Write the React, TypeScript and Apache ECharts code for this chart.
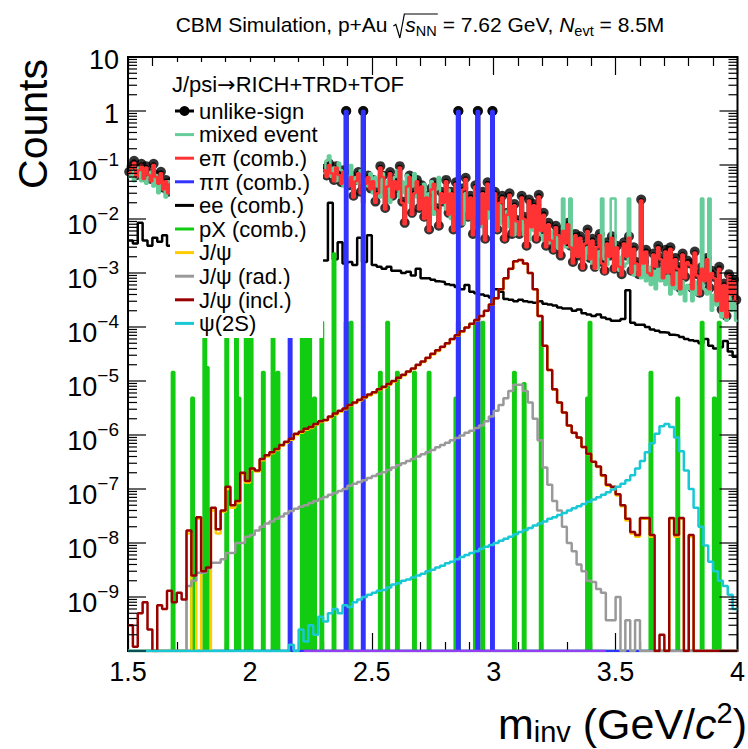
import React, { useEffect, useRef } from "react";
import * as echarts from "echarts";

const FONT = "'Liberation Sans', Arial, Helvetica, sans-serif";
const ARROW_FONT = "'DejaVu Sans', 'Liberation Sans', sans-serif";

// ---- axis ranges ----
const X_MIN = 1.5;
const X_MAX = 4.0;
const Y_MIN = 1e-10;
const Y_MAX = 10;
const X_INTERVAL = 0.5;
const yLabelExponents = [1, 0, -1, -2, -3, -4, -5, -6, -7, -8, -9];

// ---- binning ----
const FINE_BIN = 0.01; // unlike-sign, mixed event, e pi, pi pi, pX
const BIN = 0.02; // ee and the signal histograms
const LEFT_START = 1.5; // first bin of the left part of the combinatorial histograms
const RIGHT_START = 2.3; // first bin of the right part (the legend hides 1.68-2.30)
const FULL_START = 1.5; // first bin of the signal histograms

// ---- unlike-sign (data), 0.01 bins ----
const unlikeLeft = [
  0.075, 0.095, 0.12, 0.065, 0.085, 0.105, 0.06, 0.095, 0.07,
  0.055, 0.105, 0.065, 0.048, 0.075, 0.038, 0.053, 0.032, 0.048,
];
const unlikeRight = [
  0.085, 0.064, 0.106, 0.074, 0.053, 0.095, 0.069, 0.048, 0.08, 1,
  0.042, 0.064, 0.027, 0.053, 0.074, 0.032, 1, 0.048, 0.064, 0.037,
  0.053, 0.021, 0.032, 0.095, 0.064, 0.016, 0.042, 0.074, 0.027, 0.053,
  0.037, 0.095, 0.021, 0.0085, 0.042, 0.064, 0.013, 0.032, 0.053, 0.016,
  0.042, 0.011, 0.027, 0.0064, 0.037, 0.048, 0.016, 0.0075, 0.032, 0.021,
  0.053, 0.013, 0.032, 0.0064, 0.048, 1, 0.0085, 0.037, 0.058, 0.011,
  0.027, 0.0053, 0.042, 1, 0.0085, 0.032, 0.0043, 0.048, 0.016, 1,
  0.032, 0.0064, 0.021, 0.027, 0.0043, 0.013, 0.03, 0.0053, 0.019, 0.0096,
  0.0053, 0.027, 0.011, 0.0032, 0.023, 0.0075, 0.019, 0.0043, 0.028, 0.0064,
  0.013, 0.0032, 0.0085, 0.0043, 0.0027, 0.0075, 0.0053, 0.0021, 0.0064, 0.0037,
  0.0085, 0.0032, 0.0016, 0.0053, 0.0021, 0.0048, 0.0013, 0.0037, 0.0064, 0.0019,
  0.0043, 0.0013, 0.0032, 0.0053, 0.0016, 0.0011, 0.0037, 0.0021, 0.0048, 0.0012,
  0.0032, 0.0014, 0.00095, 0.0037, 0.0021, 0.0048, 0.0011, 0.003, 0.0016, 0.00095,
  0.023, 0.0016, 0.0027, 0.0011, 0.00095, 0.0023, 0.0014, 0.0032, 0.0019, 0.00085,
  0.0027, 0.0011, 0.003, 0.00064, 0.0019, 0.0013, 0.00053, 0.0023, 0.00085, 0.0017,
  0.0015, 0.00053, 0.0025, 0.00095, 0.00043, 0.0013, 0.00075, 0.0019, 0.00053, 0.0011,
  0.00085, 0.00032, 0.0013, 0.00021, 0.00064, 0.00016, 0.00095, 0.00043, 0.00075, 0.00032,
];
const HIGH_BIN = 0.5; // unlike-sign bins above this are the pi pi pairs at 1

// ---- mixed event, 0.01 bins ----
const mixedLeft = [
  0.06, 0.08, 0.05, 0.07, 0.09, 0.05, 0.085, 0.045, 0.06,
  0.075, 0.04, 0.065, 0.03, 0.055, 0.035, 0.025, 0.05, 0.03,
];
const mixedRight = [
  0.07, 0.12, 0.15, 0.06, 0.09, 0.05, 0.11, 0.08, 0.04, 0.065,
  0.05, 0.1, 0.035, 0.06, 0.045, 0.08, 0.03, 0.055, 0.04, 0.07,
  0.03, 0.06, 0.04, 0.025, 0.07, 0.035, 0.05, 0.02, 0.045, 0.06,
  0.08, 0.025, 0.05, 0.03, 0.065, 0.02, 0.04, 0.07, 0.025, 0.035,
  0.02, 0.045, 0.015, 0.03, 0.05, 0.012, 0.035, 0.06, 0.02, 0.028,
  0.015, 0.035, 0.01, 0.025, 0.012, 0.04, 0.018, 0.008, 0.03, 0.014,
  0.02, 0.008, 0.025, 0.012, 0.018, 0.007, 0.022, 0.01, 0.015, 0.006,
  0.012, 0.006, 0.018, 0.008, 0.005, 0.014, 0.007, 0.01, 0.005, 0.009,
  0.006, 0.011, 0.005, 0.008, 0.004, 0.009, 0.006, 0.0045, 0.008, 0.005,
  0.004, 0.007, 0.0035, 0.006, 0.003, 0.005, 0.0028, 0.0045, 0.024, 0.003,
  0.003, 0.024, 0.0025, 0.0035, 0.002, 0.004, 0.0025, 0.0018, 0.003, 0.0022,
  0.0015, 0.003, 0.0012, 0.0025, 0.024, 0.0018, 0.0014, 0.0022, 0.024, 0.024,
  0.0016, 0.0011, 0.002, 0.0013, 0.0015, 0.024, 0.0018, 0.0009, 0.0014, 0.0011,
  0.0008, 0.0016, 0.0007, 0.0013, 0.0006, 0.0011, 0.0005, 0.0012, 0.0007, 0.001,
  0.0006, 0.0009, 0.0004, 0.0008, 0.0005, 0.001, 0.0004, 0.0007, 0.0003, 0.0006,
  0.0005, 0.0003, 0.0007, 0.0004, 0.0006, 0.024, 0.0005, 0.0004, 0.024, 0.0002,
  0.0004, 0.00025, 0.0005, 0.00015, 0.0003, 0.00013, 0.0004, 0.0002, 0.0003, 0.00013,
];

// ---- e pi (comb.), 0.01 bins ----
const epiLeft = [
  0.07, 0.09, 0.11, 0.06, 0.08, 0.1, 0.055, 0.09, 0.065,
  0.05, 0.1, 0.06, 0.045, 0.07, 0.035, 0.05, 0.03, 0.045,
];
const epiRight = [
  0.08, 0.06, 0.1, 0.07, 0.05, 0.09, 0.065, 0.045, 0.075, 0.055,
  0.04, 0.06, 0.025, 0.05, 0.07, 0.03, 0.02, 0.045, 0.06, 0.035,
  0.05, 0.02, 0.03, 0.09, 0.06, 0.015, 0.04, 0.07, 0.025, 0.05,
  0.035, 0.09, 0.02, 0.008, 0.04, 0.06, 0.012, 0.03, 0.05, 0.015,
  0.04, 0.01, 0.025, 0.006, 0.035, 0.045, 0.015, 0.007, 0.03, 0.02,
  0.05, 0.012, 0.03, 0.006, 0.045, 0.02, 0.008, 0.035, 0.055, 0.01,
  0.025, 0.005, 0.04, 0.05, 0.008, 0.03, 0.004, 0.045, 0.015, 0.006,
  0.03, 0.006, 0.02, 0.025, 0.004, 0.012, 0.028, 0.005, 0.018, 0.009,
  0.005, 0.025, 0.01, 0.003, 0.022, 0.007, 0.018, 0.004, 0.026, 0.006,
  0.012, 0.003, 0.008, 0.004, 0.0025, 0.007, 0.005, 0.002, 0.006, 0.0035,
  0.008, 0.003, 0.0015, 0.005, 0.002, 0.0045, 0.0012, 0.0035, 0.006, 0.0018,
  0.004, 0.0012, 0.003, 0.005, 0.0015, 0.001, 0.0035, 0.002, 0.0045, 0.0011,
  0.003, 0.0013, 0.0009, 0.0035, 0.002, 0.0045, 0.001, 0.0028, 0.0015, 0.0009,
  0.022, 0.0015, 0.0025, 0.001, 0.0009, 0.0022, 0.0013, 0.003, 0.0018, 0.0008,
  0.0025, 0.001, 0.0028, 0.0006, 0.0018, 0.0012, 0.0005, 0.0022, 0.0008, 0.0016,
  0.0014, 0.0005, 0.0024, 0.0009, 0.0004, 0.0012, 0.0007, 0.0018, 0.0005, 0.001,
  0.0008, 0.0003, 0.0012, 0.0002, 0.0006, 0.00015, 0.0009, 0.0004, 0.0007, 0.0003,
];

// ---- pi pi (comb.) : sparse 0.01 bins (lower edge, value) ----
const pipiSpikes = [[2.16, 1], [2.39, 1], [2.46, 1], [2.85, 1], [2.93, 1], [2.99, 1]];

// ---- ee (comb.), 0.02 bins ----
const eeLeft = [0.004, 0.0035, 0.0085, 0.004, 0.0032, 0.0045, 0.0038, 0.005, 0.0032];
const eeRight = [
  0.0017, 0.02, 0.0018, 0.0037, 0.0015, 0.0016, 0.0014, 0.0045, 0.0016, 0.005,
  0.0014, 0.0013, 0.0012, 0.0013, 0.0011, 0.0011, 0.001, 0.00105, 0.0009, 0.0012,
  0.0008, 0.0008, 0.00075, 0.0007, 0.00068, 0.00062, 0.0006, 0.00055, 0.0005, 0.0006,
  0.00045, 0.00042, 0.0004, 0.00038, 0.00035, 0.0005, 0.00045, 0.00033, 0.00032, 0.0003,
  0.00032, 0.0003, 0.00029, 0.00028, 0.0003, 0.00027, 0.00026, 0.00025, 0.00023, 0.00022,
  0.00022, 0.0002, 0.00021, 0.00018, 0.00017, 0.00016, 0.00017, 0.00015, 0.00014, 0.00013,
  0.00013, 0.00014, 0.00048, 0.00012, 0.00011, 0.00011, 0.0001, 0.00009, 0.000085, 0.00008,
  0.000078, 0.000072, 0.00007, 0.000065, 0.00006, 0.000057, 0.000055, 0.00005, 0.00006, 0.000045,
  0.00004, 0.000042, 0.000055, 0.000035, 0.000028,
];

// ---- pX (comb.) : sparse 0.01 bins (lower edge, value) ----
const pxSpikes = [
  [1.68, 1.47e-5], [1.76, 4.9e-6], [1.81, 1.24e-4], [1.82, 1.8e-5], [1.9, 1.24e-4],
  [1.94, 1.24e-4], [1.95, 4.9e-6], [1.98, 1.24e-4], [2.0, 1.24e-4], [2.05, 1.47e-5],
  [2.09, 1.24e-4], [2.11, 1.47e-5], [2.21, 1.24e-4], [2.23, 1.24e-4], [2.24, 1.24e-4],
  [2.26, 4.9e-6], [2.29, 1.24e-4], [2.34, 2.3e-3], [2.39, 1.24e-4], [2.41, 1.24e-4],
  [2.53, 1.47e-5], [2.56, 1.24e-4], [2.6, 1.47e-5], [2.67, 1.47e-5], [2.73, 1.47e-5],
  [2.84, 4.9e-6], [2.85, 1.24e-4], [2.92, 1.24e-4], [2.95, 1.24e-4], [3.08, 1.47e-5],
  [3.12, 9.1e-6], [3.19, 1.24e-4], [3.38, 4.9e-6], [3.39, 1.24e-4], [3.64, 1.47e-5],
  [3.75, 4.9e-6], [3.85, 1.24e-4], [3.9, 4.9e-6], [3.92, 1.24e-4],
];

// ---- J/psi ----
const jpsi = [
  0, 0, 0, 0, 0, 0, 0, 0, 0, 0,
  0, 0, 1.5e-8, 0, 2.8e-8, 0, 0, 4e-8, 1.5e-8, 3.8e-8,
  1e-7, 4.5e-8, 5.5e-8, 1.9e-7, 1.3e-7, 2.3e-7, 2.1e-7, 3.4e-7, 4e-7, 4.6e-7,
  5.3e-7, 6.3e-7, 7.3e-7, 8.2e-7, 1e-6, 1.1e-6, 1.25e-6, 1.35e-6, 1.55e-6, 1.75e-6,
  1.85e-6, 2.1e-6, 2.4e-6, 2.7e-6, 3e-6, 3.5e-6, 3.9e-6, 4.35e-6, 4.85e-6, 5.4e-6,
  6e-6, 6.8e-6, 7.6e-6, 8.5e-6, 9.7e-6, 1.12e-5, 1.27e-5, 1.46e-5, 1.66e-5, 1.95e-5,
  2.25e-5, 2.65e-5, 3.1e-5, 3.6e-5, 4.2e-5, 4.9e-5, 5.9e-5, 6.9e-5, 8.2e-5, 9.7e-5,
  1.14e-4, 1.33e-4, 1.58e-4, 1.98e-4, 2.57e-4, 3.37e-4, 4.95e-4, 7.95e-4, 1.19e-3, 1.64e-3,
  1.74e-3, 1.49e-3, 9.95e-4, 4.98e-4, 1.59e-4, 4.47e-5, 1.59e-5, 6.9e-6, 3.95e-6, 2.58e-6,
  1.49e-6, 1.09e-6, 8.9e-7, 5.9e-7, 4.45e-7, 3.15e-7, 2.55e-7, 1.75e-7, 1.15e-7, 1.05e-7,
  7.6e-8, 4.8e-8, 2.6e-8, 1.5e-8, 1.3e-8, 2.8e-8, 2.8e-8, 1.3e-8, 0, 0,
  0, 2.8e-8, 1.3e-8, 2.8e-8, 0, 1.3e-8, 0, 0, 0, 0,
  0, 0, 0, 0, 0,
];

// ---- J/psi (rad.) ----
const jpsiRad = [
  0, 0, 0, 0, 0, 0, 0, 0, 0, 0,
  0, 0, 1.6e-9, 2e-9, 2.8e-9, 2.8e-9, 3.4e-9, 4.3e-9, 4.3e-9, 5e-9,
  6.5e-9, 6.5e-9, 1e-8, 1e-8, 1.3e-8, 1.4e-8, 1.7e-8, 2e-8, 2.3e-8, 2.5e-8,
  2.8e-8, 3.1e-8, 3.5e-8, 3.9e-8, 4.3e-8, 4.7e-8, 5e-8, 5.5e-8, 6e-8, 6.5e-8,
  7.1e-8, 7.8e-8, 8.4e-8, 9.2e-8, 1e-7, 1.15e-7, 1.25e-7, 1.35e-7, 1.45e-7, 1.6e-7,
  1.75e-7, 1.9e-7, 2.05e-7, 2.25e-7, 2.5e-7, 2.75e-7, 3e-7, 3.3e-7, 3.6e-7, 4e-7,
  4.4e-7, 4.8e-7, 5.3e-7, 5.9e-7, 6.5e-7, 7.2e-7, 8e-7, 8.8e-7, 9.8e-7, 1.1e-6,
  1.2e-6, 1.35e-6, 1.5e-6, 1.8e-6, 2.2e-6, 2.8e-6, 3.6e-6, 4.8e-6, 6.5e-6, 8.5e-6,
  8.5e-6, 6.5e-6, 4e-6, 2e-6, 8e-7, 2.5e-7, 1.2e-7, 6e-8, 4e-8, 2e-8,
  1e-8, 7e-9, 4e-9, 3e-9, 2e-9, 1.9e-9, 1.4e-9, 1.2e-9, 3.7e-10, 3.7e-10,
  1e-9, 0, 3.7e-10, 0, 3.7e-10, 0, 0, 0, 0, 0,
  0, 0, 0, 0, 0, 0, 0, 0, 0, 0,
  0, 0, 0, 0, 0,
];

// ---- J/psi (incl.) ----
const jpsiIncl = [
  3e-10, 1.2e-10, 5e-10, 8e-10, 2.5e-10, 0, 7e-10, 6e-10, 1.3e-9, 8e-10,
  1.2e-9, 9e-10, 1.7e-8, 2.5e-9, 3e-8, 3e-9, 3.5e-9, 4.5e-8, 1.8e-8, 4e-8,
  1.1e-7, 5e-8, 6e-8, 2e-7, 1.4e-7, 2.4e-7, 2.2e-7, 3.6e-7, 4.2e-7, 4.8e-7,
  5.5e-7, 6.5e-7, 7.5e-7, 8.5e-7, 1.05e-6, 1.15e-6, 1.3e-6, 1.4e-6, 1.6e-6, 1.8e-6,
  1.9e-6, 2.2e-6, 2.5e-6, 2.8e-6, 3.1e-6, 3.6e-6, 4e-6, 4.5e-6, 5e-6, 5.6e-6,
  6.2e-6, 7e-6, 7.8e-6, 8.8e-6, 1e-5, 1.15e-5, 1.3e-5, 1.5e-5, 1.7e-5, 2e-5,
  2.3e-5, 2.7e-5, 3.2e-5, 3.7e-5, 4.3e-5, 5e-5, 6e-5, 7e-5, 8.3e-5, 9.8e-5,
  1.15e-4, 1.35e-4, 1.6e-4, 2e-4, 2.6e-4, 3.4e-4, 5e-4, 8e-4, 1.2e-3, 1.65e-3,
  1.75e-3, 1.5e-3, 1e-3, 5e-4, 1.6e-4, 4.5e-5, 1.6e-5, 7e-6, 4e-6, 2.6e-6,
  1.5e-6, 1.1e-6, 9e-7, 6e-7, 4.5e-7, 3.2e-7, 2.6e-7, 1.8e-7, 1.2e-7, 1.1e-7,
  8e-8, 5e-8, 2.8e-8, 1.6e-8, 1.4e-8, 2.9e-8, 2.9e-8, 1.4e-8, 0, 2e-10,
  0, 2.9e-8, 1.4e-8, 2.9e-8, 0, 1.4e-8, 0, 0, 0, 0,
  0, 0, 0, 0, 0,
];

// ---- psi(2S) ----
const psi2S = [
  0, 0, 0, 0, 0, 0, 0, 0, 0, 0,
  0, 0, 0, 0, 0, 0, 0, 0, 0, 0,
  0, 0, 0, 0, 0, 0, 0, 0, 0, 0,
  0, 0, 0, 1.3e-10, 0, 2.5e-10, 1.5e-10, 3e-10, 2e-10, 4.3e-10,
  3.5e-10, 5e-10, 6e-10, 5e-10, 7e-10, 6.5e-10, 8e-10, 9e-10, 1e-9, 1.1e-9,
  1.2e-9, 1.3e-9, 1.35e-9, 1.5e-9, 1.7e-9, 1.8e-9, 2e-9, 2.1e-9, 2.3e-9, 2.5e-9,
  2.7e-9, 3e-9, 3.2e-9, 3.5e-9, 3.8e-9, 4.2e-9, 4.5e-9, 5e-9, 5.5e-9, 6e-9,
  6.5e-9, 7e-9, 7.8e-9, 8.5e-9, 9.2e-9, 1e-8, 1.1e-8, 1.2e-8, 1.3e-8, 1.45e-8,
  1.6e-8, 1.75e-8, 1.9e-8, 2.1e-8, 2.3e-8, 2.5e-8, 2.8e-8, 3e-8, 3.3e-8, 3.6e-8,
  4e-8, 4.4e-8, 4.8e-8, 5.3e-8, 5.8e-8, 6.4e-8, 7e-8, 7.8e-8, 8.7e-8, 9.8e-8,
  1.1e-7, 1.25e-7, 1.45e-7, 1.8e-7, 2.4e-7, 3.3e-7, 4.8e-7, 7e-7, 1.05e-6, 1.45e-6,
  1.6e-6, 1.4e-6, 9e-7, 5e-7, 2.2e-7, 1e-7, 4.5e-8, 2e-8, 9e-9, 4.5e-9,
  3e-9, 2e-9, 1.6e-9, 1.1e-9, 6e-10,
];

// ---- unlisted histogram whose empty bins line the bottom (purple) ----
const otherEmptyRange = [2.22, 3.46];

// ---- legend ----
const legendHeader = ["J/psi", "\u2192", "RICH+TRD+TOF"];
const legendLabels = [
  "unlike-sign", "mixed event", "e\u03c0 (comb.)", "\u03c0\u03c0 (comb.)", "ee (comb.)",
  "pX (comb.)", "J/\u03c8", "J/\u03c8 (rad.)", "J/\u03c8 (incl.)", "\u03c8(2S)",
];
const C = {
  unlike: "#000000",
  mixed: "#66cc99",
  epi: "#ff3333",
  pipi: "#3333ff",
  ee: "#000000",
  px: "#11cc11",
  jpsi: "#ffcc00",
  rad: "#999999",
  incl: "#990000",
  psi2s: "#18c8d4",
  other: "#9440f0",
};
const legendColors = [C.unlike, C.mixed, C.epi, C.pipi, C.ee, C.px, C.jpsi, C.rad, C.incl, C.psi2s];

// ---------------------------------------------------------------

const measureCtx: any = typeof document !== "undefined" ? document.createElement("canvas").getContext("2d") : null;
function tw(text: string, size: number, italic = false, family = FONT) {
  measureCtx.font = `${italic ? "italic " : ""}${size}px ${family}`;
  return measureCtx.measureText(text).width;
}
const CENTRAL = 0.3465; // central baseline offset (em) above the alphabetic baseline

function zero(v: number) {
  return v === 0 ? Y_MIN : v;
}
function hist(start: number, width: number, values: number[]) {
  const pts: any[] = values.map((v, i) => [+(start + i * width).toFixed(4), zero(v)]);
  pts.push([+(start + values.length * width).toFixed(4), zero(values[values.length - 1])]);
  return pts;
}
function splitHist(left: number[], right: number[], width: number) {
  return [...hist(LEFT_START, width, left), [2.0, null], ...hist(RIGHT_START, width, right)];
}
function spikes(list: number[][], width: number) {
  const s = [...list].sort((a, b) => a[0] - b[0]);
  const pts: any[] = [[X_MIN, Y_MIN]];
  s.forEach(([x, v]) => {
    const x2 = +(x + width).toFixed(4);
    pts.push([x, Y_MIN], [x, v], [x2, v], [x2, Y_MIN]);
  });
  pts.push([X_MAX, Y_MIN]);
  return pts;
}
function centers(start: number, width: number, values: number[]) {
  return values.map((v, i) => [+(start + (i + 0.5) * width).toFixed(4), v]);
}

function textEl(text: string, x: number, baseline: number, size: number, opts: any = {}) {
  return {
    type: "text",
    x,
    y: baseline - CENTRAL * size,
    z: 100,
    silent: true,
    style: {
      text,
      fontSize: size,
      fontFamily: opts.family || FONT,
      fontStyle: opts.italic ? "italic" : "normal",
      fill: "#000",
      align: opts.align || "left",
      verticalAlign: "middle",
    },
  };
}

function layoutPieces(pieces: any[], startX: number, baseline: number) {
  const els: any[] = [];
  let x = startX;
  const pos: number[] = [];
  pieces.forEach((p) => {
    pos.push(x);
    if (p.gap) {
      x += p.gap;
      return;
    }
    els.push(textEl(p.text, x, baseline + (p.dy || 0), p.size, { italic: p.italic, family: p.family }));
    x += tw(p.text, p.size, p.italic, p.family || FONT);
  });
  pos.push(x);
  return { els, pos, end: x };
}
function piecesWidth(pieces: any[]) {
  return pieces.reduce((s, p) => s + (p.gap ? p.gap : tw(p.text, p.size, p.italic, p.family || FONT)), 0);
}

function buildGraphics() {
  const g: any[] = [];
  // ---- title ----
  const TS = 21;
  const SS = 14.5;
  const titlePieces = [
    { text: "CBM Simulation, p+Au ", size: TS },
    { gap: 12 },
    { text: "s", size: TS, italic: true },
    { text: "NN", size: SS, dy: 4.5 },
    { text: " = 7.62 GeV, ", size: TS },
    { text: "N", size: TS, italic: true },
    { text: "evt", size: SS, dy: 4.5 },
    { text: " = 8.5M", size: TS },
  ];
  const tWidth = piecesWidth(titlePieces);
  const TB = 32;
  const t = layoutPieces(titlePieces, 420 - tWidth / 2, TB);
  g.push(...t.els);
  const sx = t.pos[1];
  const sEnd = t.pos[4];
  g.push({
    type: "polyline",
    z: 100,
    silent: true,
    shape: {
      points: [
        [sx, TB - 6],
        [sx + 2.5, TB - 7.5],
        [sx + 6.5, TB + 6],
        [sx + 11, TB - 18],
        [sEnd + 1, TB - 18],
      ],
    },
    style: { stroke: "#000", lineWidth: 1.2, fill: null },
  });

  // ---- x axis title ----
  const XS = 43;
  const XSS = 29;
  const xPieces = [
    { text: "m", size: XS },
    { text: "inv", size: XSS, dy: 3 },
    { text: " (GeV/", size: XS },
    { text: "c", size: XS, italic: true },
    { text: "2", size: XSS, dy: -16 },
    { text: ")", size: XS },
  ];
  const xw = piecesWidth(xPieces);
  g.push(...layoutPieces(xPieces, 747 - xw, 739).els);

  // ---- y axis title ----
  g.push({
    type: "text",
    x: 33,
    y: 59,
    rotation: Math.PI / 2,
    z: 100,
    silent: true,
    style: { text: "Counts", fontSize: 41, fontFamily: FONT, fill: "#000", align: "right", verticalAlign: "middle" },
  });

  // ---- legend ----
  g.push({ type: "rect", z: 90, silent: true, shape: { x: 170, y: 62, width: 153, height: 276 }, style: { fill: "#fff" } });
  const LS = 22;
  const headerPieces = [
    { text: legendHeader[0], size: LS },
    { text: legendHeader[1], size: LS, family: ARROW_FONT },
    { text: legendHeader[2], size: LS },
  ];
  g.push(...layoutPieces(headerPieces, 172, 92).els);
  const ROW0 = 111;
  const ROWH = 23.6;
  legendLabels.forEach((lab, k) => {
    const y = ROW0 + ROWH * k;
    g.push({
      type: "line",
      z: 100,
      silent: true,
      shape: { x1: 175, y1: y, x2: 194, y2: y },
      style: { stroke: legendColors[k], lineWidth: 3 },
    });
    if (k === 0) {
      g.push({ type: "circle", z: 101, silent: true, shape: { cx: 184.5, cy: y, r: 5 }, style: { fill: "#000" } });
    }
    g.push(textEl(lab, 199, y + 8, LS));
  });
  return g;
}

function buildOption() {
  const LW = 2.5;
  const line = (name: string, data: any[], color: string, width = LW, step: any = "end") => ({
    type: "line",
    name,
    data,
    step,
    symbol: "none",
    showSymbol: false,
    connectNulls: false,
    silent: true,
    lineStyle: { color, width },
    itemStyle: { color },
    animation: false,
  });
  const markers = (name: string, data: any[]) => ({
    type: "scatter",
    name,
    data,
    symbol: "circle",
    symbolSize: 10,
    itemStyle: { color: C.unlike },
    silent: true,
    animation: false,
  });

  // y ticks (decades + 2..9 subdivisions), placed through the y scale
  const yTicks: any[] = [];
  for (let n = -10; n <= 0; n++) {
    for (let k = 1; k <= 9; k++) yTicks.push([X_MIN, k * Math.pow(10, n), k === 1 ? 1 : 0]);
  }
  yTicks.push([X_MIN, Y_MAX, 1]);

  const unlikeMarkers = [...centers(LEFT_START, FINE_BIN, unlikeLeft), ...centers(RIGHT_START, FINE_BIN, unlikeRight)];

  const series: any[] = [
    line("unlike-sign", splitHist(unlikeLeft, unlikeRight, FINE_BIN), C.unlike),
    markers("unlike-sign markers", unlikeMarkers),
    line("mixed event", splitHist(mixedLeft, mixedRight, FINE_BIN), C.mixed),
    line("e\u03c0 (comb.)", splitHist(epiLeft, epiRight, FINE_BIN), C.epi),
    line("ee (comb.)", splitHist(eeLeft, eeRight, BIN), C.ee),
    line("pX (comb.)", spikes(pxSpikes, FINE_BIN), C.px, LW, false),
    line("\u03c0\u03c0 (comb.)", spikes(pipiSpikes, FINE_BIN), C.pipi, LW, false),
    markers("unlike-sign high bins", unlikeMarkers.filter((p) => p[1] > HIGH_BIN)),
    line("J/\u03c8", hist(FULL_START, BIN, jpsi), C.jpsi),
    line("J/\u03c8 (rad.)", hist(FULL_START, BIN, jpsiRad), C.rad),
    line("J/\u03c8 (incl.)", hist(FULL_START, BIN, jpsiIncl), C.incl),
    line("\u03c8(2S)", hist(FULL_START, BIN, psi2S), C.psi2s),
    line("other", otherEmptyRange.map((x) => [x, Y_MIN]), C.other, LW, false),
    {
      type: "custom",
      name: "y ticks",
      silent: true,
      z: 20,
      clip: false,
      data: yTicks,
      renderItem: (params: any, api: any) => {
        const v = api.value(1);
        const major = api.value(2) === 1;
        const p = api.coord([X_MIN, v]);
        const q = api.coord([X_MAX, v]);
        const len = major ? 18 : 9;
        return {
          type: "group",
          children: [
            { type: "line", shape: { x1: p[0], y1: p[1], x2: p[0] + len, y2: p[1] }, style: { stroke: "#000", lineWidth: 1.2 } },
            { type: "line", shape: { x1: q[0] - len, y1: q[1], x2: q[0], y2: q[1] }, style: { stroke: "#000", lineWidth: 1.2 } },
          ],
        };
      },
    },
    {
      type: "custom",
      name: "y labels",
      silent: true,
      z: 20,
      clip: false,
      data: yLabelExponents.map((e) => [X_MIN, Math.pow(10, e), e]),
      renderItem: (params: any, api: any) => {
        const e = api.value(2);
        const p = api.coord([X_MIN, Math.pow(10, e)]);
        const right = p[0] - 9;
        const base = (text: string, x: number, y: number, size: number) => ({
          type: "text",
          x,
          y,
          style: { text, fontSize: size, fontFamily: FONT, fill: "#000", align: "right", verticalAlign: "middle" },
        });
        if (e === 1 || e === 0) return base(e === 1 ? "10" : "1", right, p[1] + 3, 27);
        const sup = "\u2212" + -e;
        const sw = tw(sup, 19);
        return {
          type: "group",
          children: [base("10", right - sw, p[1] + 6, 27), base(sup, right, p[1] - 6, 19)],
        };
      },
    },
  ];

  const xAxisCommon = {
    type: "value",
    min: X_MIN,
    max: X_MAX,
    interval: X_INTERVAL,
    splitLine: { show: false },
    axisLine: { show: false },
    axisTick: { show: true, inside: true, length: 18, lineStyle: { color: "#000", width: 1.2 } },
    minorTick: { show: true, splitNumber: 5, length: 9, lineStyle: { color: "#000", width: 1.2 } },
  };

  return {
    animation: false,
    backgroundColor: "#fff",
    textStyle: { fontFamily: FONT },
    grid: { left: 128, right: 5, top: 57, bottom: 98, show: true, borderColor: "#000", borderWidth: 2, backgroundColor: "transparent" },
    xAxis: [
      {
        ...xAxisCommon,
        position: "bottom",
        axisLabel: { show: true, fontSize: 27, fontFamily: FONT, color: "#000", margin: 7 },
      },
      { ...xAxisCommon, position: "top", axisLabel: { show: false } },
    ],
    yAxis: {
      type: "log",
      logBase: 10,
      min: Y_MIN,
      max: Y_MAX,
      axisLine: { show: false },
      axisTick: { show: false },
      axisLabel: { show: false },
      splitLine: { show: false },
      minorTick: { show: false },
    },
    series,
    graphic: buildGraphics(),
  };
}

export default function App() {
  const ref = useRef<HTMLDivElement>(null);
  useEffect(() => {
    document.body.style.margin = "0";
    const chart = echarts.init(ref.current!, null, { renderer: "svg" });
    chart.setOption(buildOption() as any);
    return () => chart.dispose();
  }, []);
  return <div ref={ref} style={{ position: "fixed", left: 0, top: 0, width: 748, height: 749, background: "#fff" }} />;
}
